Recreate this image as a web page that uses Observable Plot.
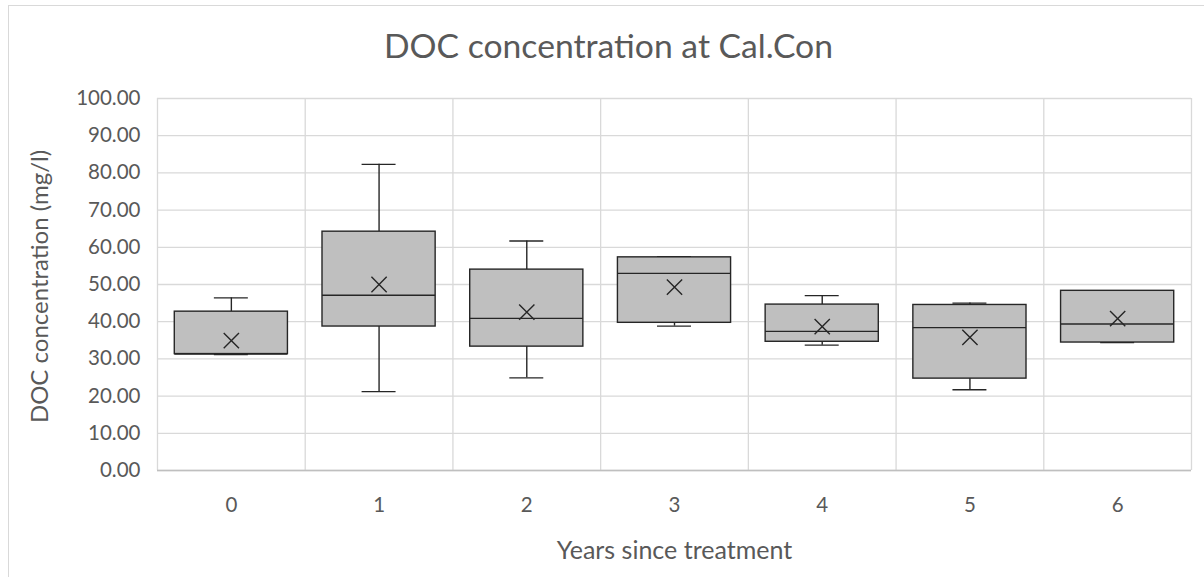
<!DOCTYPE html>
<html>
<head>
<meta charset="utf-8">
<script src="https://cdn.jsdelivr.net/npm/d3@7"></script>
<script src="https://cdn.jsdelivr.net/npm/@observablehq/plot@0.6"></script>
<style>
  html, body { margin: 0; padding: 0; background: #fff; }
  #wrap { position: relative; width: 1204px; height: 577px; overflow: hidden; }
  #border { position: absolute; left: 8px; top: 5px; width: 1300px; height: 700px; border: 1px solid #d9d9d9; box-sizing: border-box; }
  #chart { position: absolute; left: 0; top: 0; }
</style>
</head>
<body>
<div id="wrap">
  <div id="border"></div>
  <div id="chart"></div>
</div>
<script>
const years = [0, 1, 2, 3, 4, 5, 6];
const minV   = [31.2, 21.2, 24.9, 38.8, 33.7, 21.7, 34.4];
const q1V    = [31.3, 38.7, 33.3, 39.7, 34.6, 24.7, 34.4];
const medV   = [31.3, 47.1, 40.9, 53.0, 37.4, 38.4, 39.4];
const q3V    = [42.7, 64.2, 54.0, 57.3, 44.6, 44.5, 48.3];
const maxV   = [46.4, 82.3, 61.7, 57.5, 47.0, 45.0, 48.3];
const meanV  = [34.9, 50.0, 42.6, 49.3, 38.7, 35.8, 40.8];
const yTicks = [0, 10, 20, 30, 40, 50, 60, 70, 80, 90, 100];
const titleText = "DOC concentration at Cal.Con";
const yTitle = "DOC concentration (mg/l)";
const xTitle = "Years since treatment";

const data = years.map((y, i) => ({year: y, min: minV[i], q1: q1V[i], med: medV[i], q3: q3V[i], max: maxV[i], mean: meanV[i]}));
const boxHalf = 0.383;
const capHalf = 0.115;
const bounds = d3.range(-0.5, 7, 1);
const ink = "#595959";
const font = "Lato, 'Open Sans', sans-serif";

const plot = Plot.plot({
  width: 1204,
  height: 577,
  marginTop: 98,
  marginBottom: 107,
  marginLeft: 157,
  marginRight: 13,
  style: { fontFamily: font, color: ink, background: "transparent" },
  x: { domain: [-0.5, 6.5], label: null },
  y: { domain: [0, 100], label: null },
  marks: [
    Plot.ruleY(yTicks, { y: d => d, stroke: "#d9d9d9", strokeWidth: 1.3 }),
    Plot.ruleX(bounds, { x: d => d, stroke: "#d9d9d9", strokeWidth: 1.3 }),
    Plot.ruleY([0], { stroke: "#bfbfbf", strokeWidth: 1.5 }),
    Plot.axisY(yTicks, { tickFormat: d => d.toFixed(2), tickSize: 0, tickPadding: 17, fontSize: 20.5, fill: ink, label: null }),
    Plot.axisX(years, { tickFormat: d => String(d), tickSize: 0, tickPadding: 27, fontSize: 20.5, fill: ink, label: null }),
    Plot.text([yTitle], { frameAnchor: "left", textAnchor: "middle", dx: -117, dy: 2, rotate: -90, fontSize: 24, fill: ink }),
    Plot.text([xTitle], { frameAnchor: "bottom", dy: 88, fontSize: 25, fill: ink }),
    Plot.text([titleText], { frameAnchor: "top", lineAnchor: "top", dx: -66, dy: -64, fontSize: 33.7, fill: ink }),
    // whiskers
    Plot.ruleX(data, { x: "year", y1: "q3", y2: "max", stroke: "#262626", strokeWidth: 1.4 }),
    Plot.ruleX(data, { x: "year", y1: "min", y2: "q1", stroke: "#262626", strokeWidth: 1.4 }),
    Plot.ruleY(data, { y: "max", x1: d => d.year - capHalf, x2: d => d.year + capHalf, stroke: "#262626", strokeWidth: 1.4 }),
    Plot.ruleY(data, { y: "min", x1: d => d.year - capHalf, x2: d => d.year + capHalf, stroke: "#262626", strokeWidth: 1.4 }),
    // boxes
    Plot.rect(data, { x1: d => d.year - boxHalf, x2: d => d.year + boxHalf, y1: "q1", y2: "q3", fill: "#bfbfbf", stroke: "#262626", strokeWidth: 1.4 }),
    Plot.ruleY(data, { y: "med", x1: d => d.year - boxHalf, x2: d => d.year + boxHalf, stroke: "#262626", strokeWidth: 1.4 }),
    Plot.dot(data, { x: "year", y: "mean", symbol: "times", r: 7, stroke: "#262626", strokeWidth: 1.4 })
  ]
});
document.getElementById("chart").appendChild(plot);
</script>
</body>
</html>
